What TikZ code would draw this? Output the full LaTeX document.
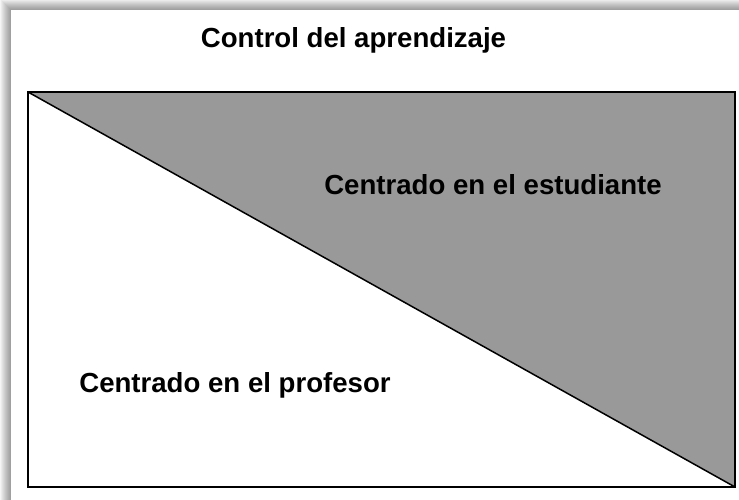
\documentclass[tikz,border=0pt]{standalone}
\usepackage{fontspec}
\setmainfont{Liberation Sans}
\begin{document}
\begin{tikzpicture}[x=1pt,y=-1pt,
  lbl/.style={font=\fontsize{27.6}{30}\selectfont\bfseries, inner sep=0pt, anchor=base},
  frame/.style={draw=black, line width=2pt}]
\useasboundingbox (0,0) rectangle (739,500);
\fill[white] (0,0) rectangle (739,500);
% soft shadow around page
\foreach \i in {1,...,11}{
  \fill[black, opacity=0.04] (11-\i,10-\i) rectangle (739,500);
}
\fill[white] (11,10) rectangle (739,500);
% triangle
\coordinate (tl) at (28,92);
\coordinate (tr) at (735,92);
\coordinate (br) at (735,487);
\coordinate (bl) at (28,487);
\fill[fill={rgb,255:red,153;green,153;blue,153}] (tl) -- (tr) -- (br) -- cycle;
\draw[line width=1.5pt] (tl) -- (br);
\draw[frame] (tl) rectangle (br);
\node[lbl] (title) at (353.5,48) {Control del aprendizaje};
\node[lbl] (est) at (493,194) {Centrado en el estudiante};
\node[lbl] (prof) at (235,392) {Centrado en el profesor};
\end{tikzpicture}
\end{document}
